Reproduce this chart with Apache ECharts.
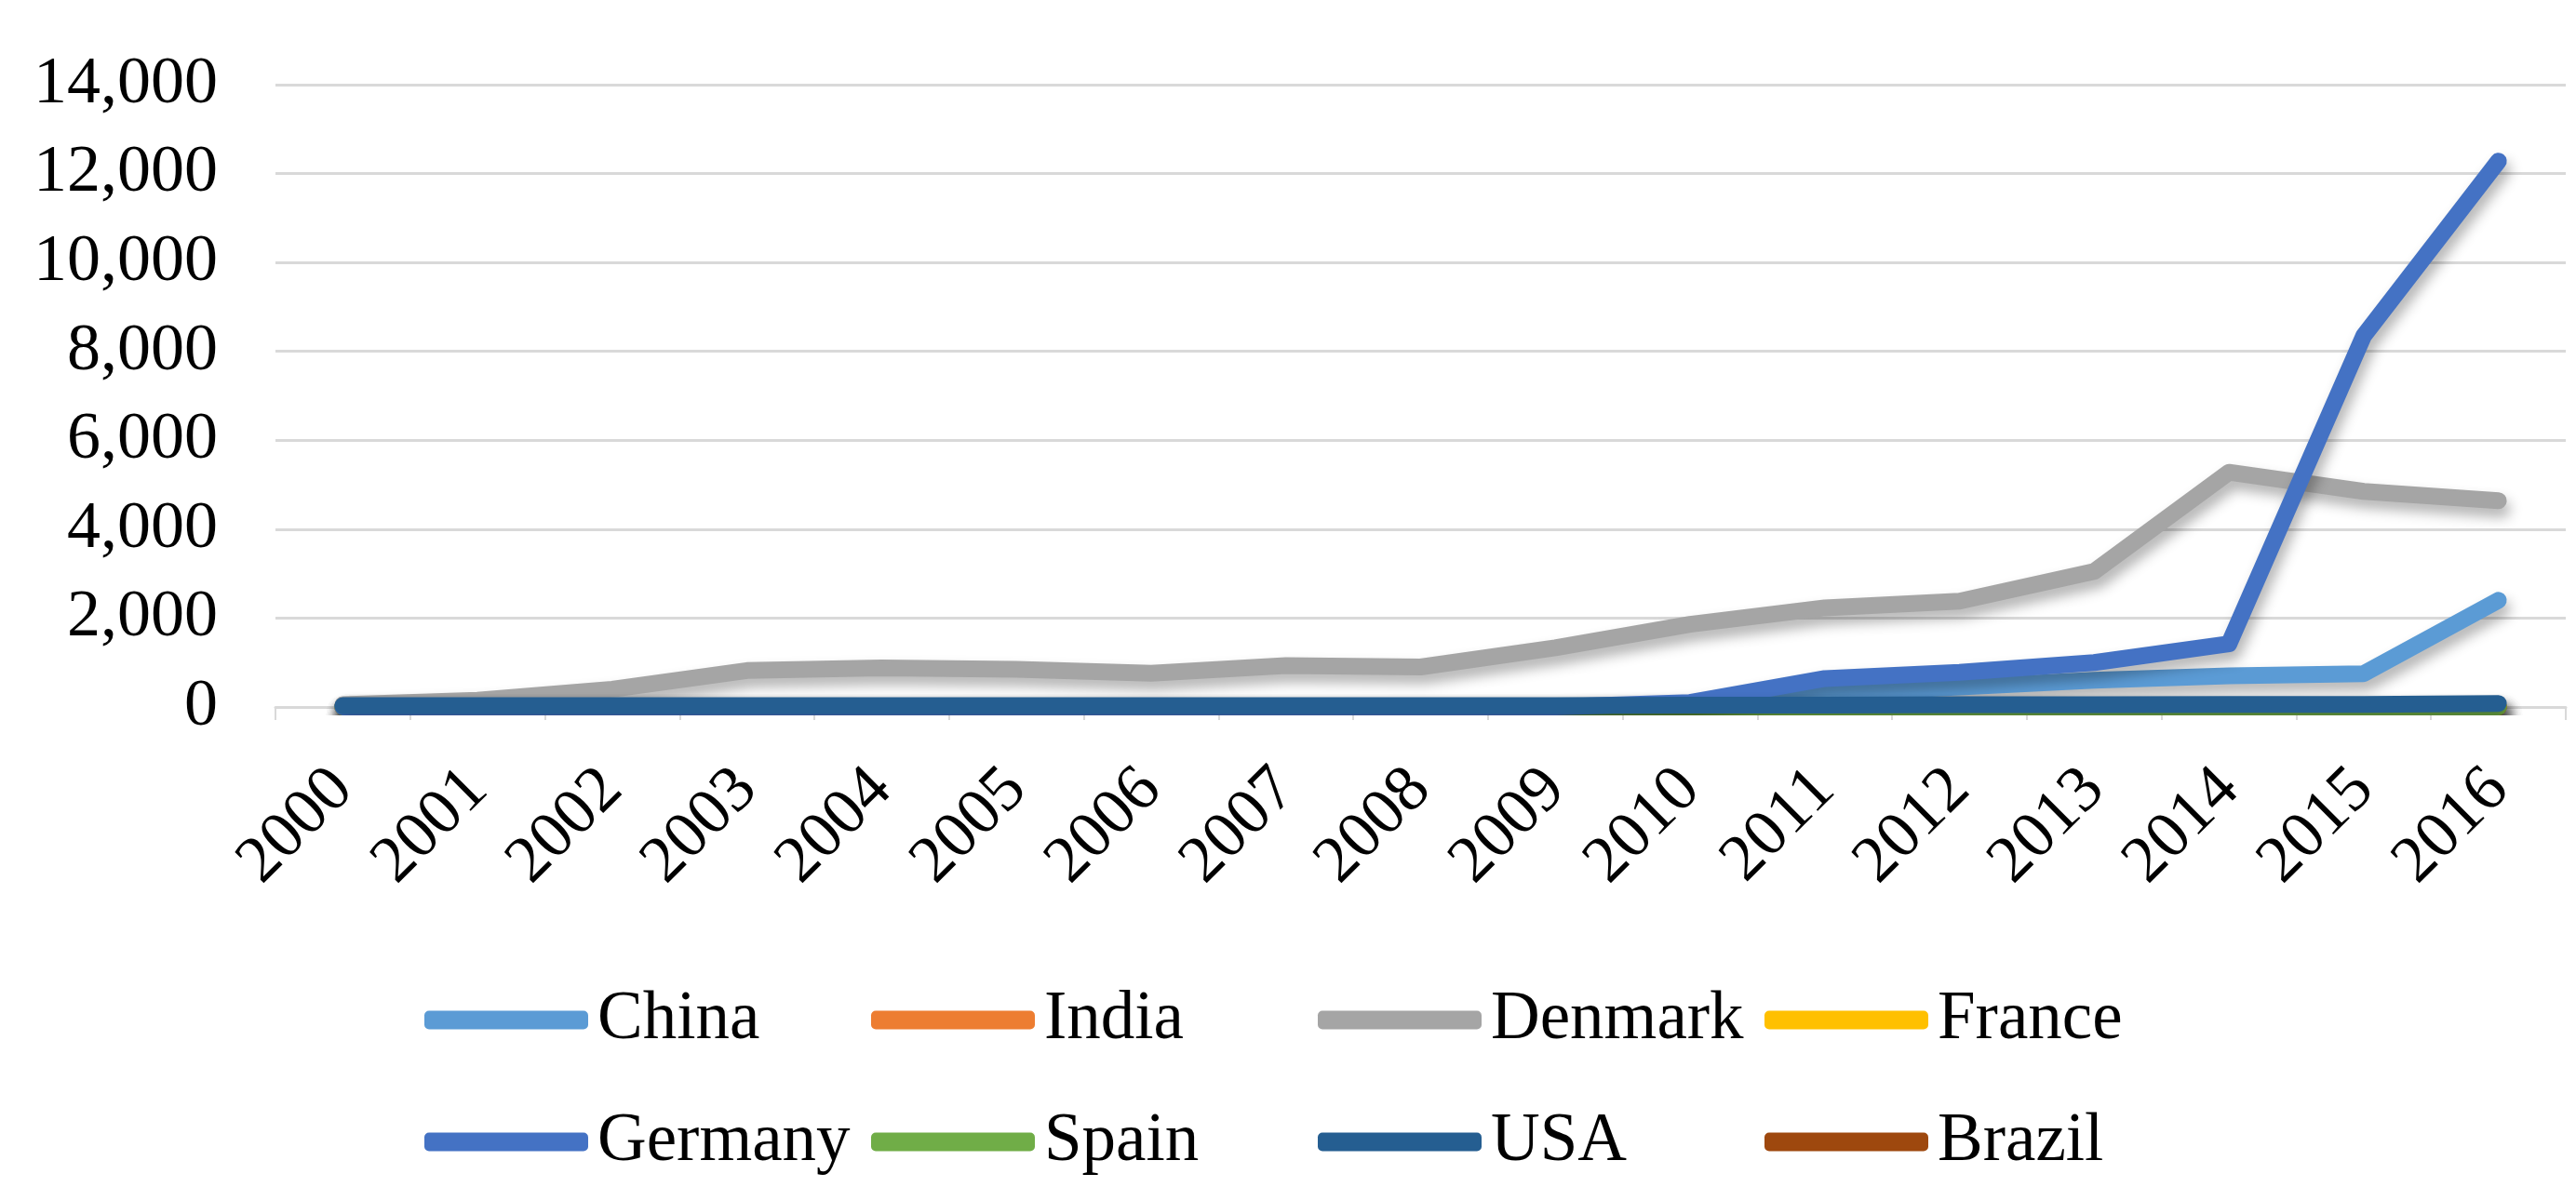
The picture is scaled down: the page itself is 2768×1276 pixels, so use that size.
<!DOCTYPE html>
<html>
<head>
<meta charset="utf-8">
<script src="https://cdn.jsdelivr.net/npm/echarts@6/dist/echarts.min.js"></script>
<style>
  html, body { margin: 0; padding: 0; background: #fff; }
  #chart { width: 2768px; height: 1276px; }
</style>
</head>
<body>
<div id="chart"></div>
<script>
// data
const years = ['2000', '2001', '2002', '2003', '2004', '2005', '2006', '2007', '2008',
    '2009', '2010', '2011', '2012', '2013', '2014', '2015', '2016'];
const china = [0, 0, 0, 0, 0, 0, 0, 0, 0, 0, 50, 300, 450, 600, 700, 750, 2400];
const india = [0, 0, 0, 0, 0, 0, 0, 0, 0, 0, 0, 0, 0, 0, 0, 0, 0];
const denmark = [50, 150, 400, 820, 880, 850, 760, 930, 900, 1330, 1860, 2230, 2380, 3050, 5280, 4850, 4640];
const france = [0, 0, 0, 0, 0, 0, 0, 0, 0, 0, 0, 0, 0, 0, 0, 0, 0];
const germany = [0, 0, 0, 0, 0, 0, 0, 0, 0, 0, 100, 640, 780, 1000, 1420, 8350, 12280];
const spain = [0, 0, 0, 0, 0, 0, 0, 0, 0, 0, 0, 0, 0, 0, 0, 0, 0];
const usa = [30, 30, 30, 30, 30, 30, 30, 30, 30, 30, 40, 40, 50, 50, 60, 60, 80];
const brazil = [0, 0, 0, 0, 0, 0, 0, 0, 0, 0, 0, 0, 0, 0, 0, 0, 0];

const yTicks = { min: 0, max: 14000, interval: 2000 };

const seriesList = [
    { name: 'China', data: china, color: '#5B9BD5', z: 2 },
    { name: 'India', data: india, color: '#ED7D31', z: 2 },
    { name: 'Denmark', data: denmark, color: '#A5A5A5', z: 2 },
    { name: 'France', data: france, color: '#FFC000', z: 2 },
    { name: 'Germany', data: germany, color: '#4472C4', z: 3 },
    { name: 'Spain', data: spain, color: '#70AD47', z: 2 },
    { name: 'USA', data: usa, color: '#255E91', z: 5 },
    { name: 'Brazil', data: brazil, color: '#9E480E', z: 1 }
];

const font = "'Liberation Serif', 'Times New Roman', serif";

const chart = echarts.init(document.getElementById('chart'));

chart.setOption({
    backgroundColor: '#ffffff',
    animation: false,
    textStyle: { fontFamily: font },
    grid: {
        left: 296,
        right: 11,
        top: 91,
        bottom: 516
    },
    legend: {
        data: seriesList.map(s => s.name),
        left: 451,
        top: 1036,
        width: 1940,
        itemWidth: 176,
        itemHeight: 20,
        itemGap: 20,
        icon: 'roundRect',
        textStyle: {
            fontFamily: font,
            fontSize: 73,
            color: '#000',
            width: 274,
            lineHeight: 111,
            padding: [0, 0, 0, 5]
        }
    },
    xAxis: {
        type: 'category',
        data: years,
        boundaryGap: true,
        axisLine: { lineStyle: { color: '#d9d9d9', width: 3 } },
        axisTick: { show: true, length: 14, lineStyle: { color: '#d9d9d9', width: 2 } },
        axisLabel: {
            rotate: 45,
            margin: 78,
            fontFamily: font,
            fontSize: 71,
            color: '#000'
        }
    },
    yAxis: {
        type: 'value',
        min: yTicks.min,
        max: yTicks.max,
        interval: yTicks.interval,
        axisLine: { show: false },
        axisTick: { show: false },
        splitLine: { lineStyle: { color: '#d9d9d9', width: 3 } },
        axisLabel: {
            margin: 62,
            fontFamily: font,
            fontSize: 72,
            color: '#000',
            formatter: v => v.toLocaleString('en-US')
        }
    },
    series: seriesList.map(s => ({
        name: s.name,
        type: 'line',
        data: s.data,
        z: s.z,
        showSymbol: false,
        symbol: 'none',
        itemStyle: { color: s.color },
        lineStyle: {
            color: s.color,
            width: 18,
            cap: 'round',
            join: 'round',
            shadowColor: 'rgba(0,0,0,0.3)',
            shadowBlur: 14,
            shadowOffsetX: 4,
            shadowOffsetY: 9
        }
    }))
});
</script>
</body>
</html>
